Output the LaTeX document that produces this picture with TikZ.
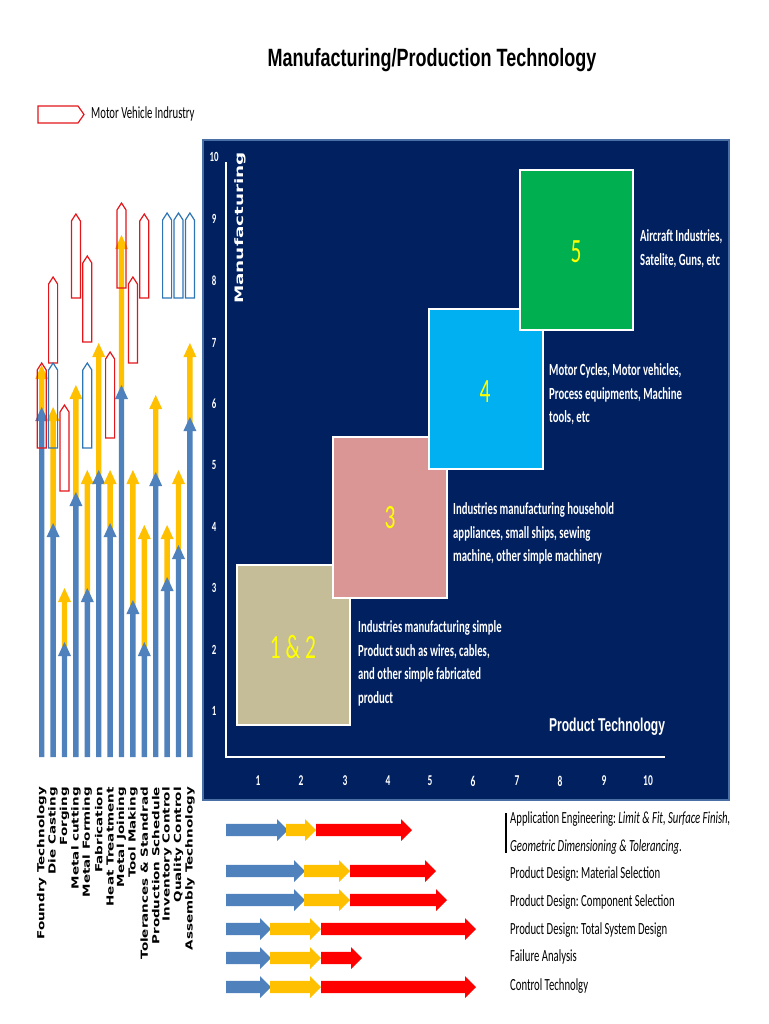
\documentclass[tikz,border=0pt]{standalone}
\usepackage{fontspec}
\usepackage{graphicx}
\frenchspacing
\newfontfamily\calib[FakeStretch=0.63]{Carlito}
\newfontfamily\titlefont[FakeStretch=0.72]{Liberation Sans}
\newfontfamily\ptfont[FakeStretch=0.65]{Liberation Sans}
\newfontfamily\vfont{DejaVu Sans}
\definecolor{navy}{HTML}{002060}
\definecolor{chartborder}{HTML}{4A6FA5}
\definecolor{tanbox}{HTML}{C4BD97}
\definecolor{pinkbox}{HTML}{D99694}
\definecolor{cyanbox}{HTML}{00B0F0}
\definecolor{greenbox}{HTML}{00B050}
\definecolor{numyellow}{HTML}{FFFF00}
\definecolor{barblue}{HTML}{4F81BD}
\definecolor{baryellow}{HTML}{FFC000}
\definecolor{barred}{HTML}{FF0000}
\definecolor{outred}{HTML}{E3161B}
\definecolor{outblue}{HTML}{2E75B6}
\tikzset{
  stagebox/.style={draw=white, line width=2pt},
  stagenum/.style={text=numyellow, font=\calib\fontsize{34}{36}\selectfont},
  boxtext/.style={text=white, anchor=west, align=left, inner sep=0pt, font=\calib\bfseries\fontsize{17}{23.5}\selectfont},
  ticklab/.style={text=white, font=\calib\bfseries\fontsize{15}{16}\selectfont},
  listtext/.style={anchor=west, inner sep=0pt, font=\calib\fontsize{17}{20}\selectfont},
  collab/.style={rotate=90, anchor=east, inner sep=0pt},
  outarrow/.style={line width=1.2pt},
}
\newcommand\colArrow[4]{% x, bottom y, tip y, colour
  \fill[#4] (#1-2.7,#2) -- (#1-2.7,#3+14) -- (#1-6.5,#3+14) -- (#1,#3) -- (#1+6.5,#3+14) -- (#1+2.7,#3+14) -- (#1+2.7,#2) -- cycle;}
\newcommand\colOutline[4]{% x, tip y, bottom y, colour
  \draw[#4, outarrow] (#1-4.5,#3) -- (#1-4.5,#2+7) -- (#1,#2) -- (#1+4.5,#2+7) -- (#1+4.5,#3) -- cycle;}
\newcommand\rowArrow[4]{% x1, x2, y, colour
  \fill[#4] (#1,#3-6.2) -- (#2-11,#3-6.2) -- (#2-11,#3-11) -- (#2,#3) -- (#2-11,#3+11) -- (#2-11,#3+6.2) -- (#1,#3+6.2) -- cycle;}
\newcommand\colPair[3]{% x, blue tip, yellow tip
  \colArrow{#1}{#2+8}{#3}{baryellow}
  \colArrow{#1}{757}{#2}{barblue}}
\begin{document}
\begin{tikzpicture}[x=1pt,y=-1pt]
\useasboundingbox (0,0) rectangle (768,1024);
\fill[white] (0,0) rectangle (768,1024);

% title
\node (title) at (432,60) {\titlefont\bfseries\fontsize{25}{30}\selectfont Manufacturing/Production Technology};

% legend
\draw[outred, outarrow] (38,106) -- (78,106) -- (84,114.5) -- (78,123) -- (38,123) -- cycle;
\node[listtext, font=\calib\fontsize{17}{18}\selectfont] (legend) at (91,114) {Motor Vehicle Indrustry};

% column arrows
\colPair{41.7}{407}{365}
\colPair{53.1}{523}{407}
\colPair{64.5}{642}{588}
\colPair{75.9}{492}{385}
\colPair{87.3}{588}{470}
\colPair{98.7}{470}{343}
\colPair{110.1}{523}{470}
\colPair{121.5}{385}{235}
\colPair{132.9}{600}{470}
\colPair{144.3}{642}{525}
\colPair{155.7}{472}{395}
\colPair{167.1}{577}{525}
\colPair{178.5}{545}{470}
\colPair{189.9}{417}{343}

% motor vehicle outlines
\colOutline{41.7}{363}{448}{outred}
\colOutline{53.1}{277}{363}{outred}
\colOutline{53.1}{363}{448}{outblue}
\colOutline{64.5}{405}{491}{outred}
\colOutline{75.9}{214}{298}{outred}
\colOutline{87.3}{256}{342}{outred}
\colOutline{87.3}{363}{448}{outblue}
\colOutline{110.1}{352}{438}{outred}
\colOutline{121.5}{203}{288}{outred}
\colOutline{132.9}{277}{363}{outred}
\colOutline{144.3}{214}{298}{outred}
\colOutline{167.1}{213}{298}{outblue}
\colOutline{178.5}{213}{298}{outblue}
\colOutline{189.9}{213}{298}{outblue}

% column labels
\foreach \lab [count=\i] in {Foundry Technology, Die Casting, Forging, Metal cutting, Metal Forming, Fabrication, Heat Treatment, Metal Joining, Tool Making, Tolerances \& Standrad, Production Schedule, Inventory Control, Quality Control, Assembly Technology}
  \node[collab] (lab\i) at ({41.7+(\i-1)*11.4},787) {\scalebox{1}[0.72]{\vfont\bfseries\fontsize{13.5}{14}\selectfont \lab}};

% chart
\fill[navy, draw=chartborder, line width=1.5pt] (203,140) rectangle (729,800);
\draw[white, line width=2.5pt] (226,162) -- (226,757) -- (665,757);
\node[rotate=90, text=white] (manu) at (240,228) {\scalebox{1}[0.63]{\vfont\bfseries\fontsize{18.4}{20}\selectfont Manufacturing}};
\node[text=white] (ptech) at (607,727) {\ptfont\bfseries\fontsize{18.6}{20}\selectfont Product Technology};

\foreach \v/\yy in {10/157, 9/219, 8/281, 7/343, 6/404, 5/465, 4/527, 3/588, 2/650, 1/711}
  \node[ticklab, font=\calib\bfseries\fontsize{14}{15}\selectfont] (ytick\v) at (214,\yy) {\v};
\foreach \v/\xx in {1/258, 2/301, 3/345, 4/388, 5/430, 6/473, 7/517, 8/560, 9/604, 10/648}
  \node[ticklab] (xtick\v) at (\xx,781) {\v};

% stage boxes
\filldraw[stagebox, fill=tanbox] (237,565) rectangle (350,725);
\filldraw[stagebox, fill=pinkbox] (333,437) rectangle (447,598);
\filldraw[stagebox, fill=cyanbox] (429,309) rectangle (543,469);
\filldraw[stagebox, fill=greenbox] (520,170) rectangle (633,330);
\node[stagenum] (s12) at (293,647) {1 \& 2};
\node[stagenum] (s3) at (390,518) {3};
\node[stagenum] (s4) at (485,392) {4};
\node[stagenum] (s5) at (576,252) {5};

\node[boxtext] (t12) at (358,663.5) {Industries manufacturing simple\\Product such as wires, cables,\\and other simple fabricated\\product};
\node[boxtext] (t3) at (453,533.5) {Industries manufacturing household\\appliances, small ships, sewing\\machine, other simple machinery};
\node[boxtext] (t4) at (549,394.5) {Motor Cycles, Motor vehicles,\\Process equipments, Machine\\tools, etc};
\node[boxtext] (t5) at (640,248.5) {Aircraft Industries,\\Satelite, Guns, etc};

% bottom arrows
\rowArrow{226}{288}{830}{barblue}
\rowArrow{286}{316}{830}{baryellow}
\rowArrow{316}{412}{830}{barred}
\foreach \yy/\bx/\yx/\rx in {871/305/350/436, 900/305/350/447, 929/271/321/476, 958/271/321/362, 987/271/321/476} {
  \rowArrow{226}{\bx}{\yy}{barblue}
  \rowArrow{\bx-1}{\yx}{\yy}{baryellow}
  \rowArrow{\yx}{\rx}{\yy}{barred}
}

% list
\draw[black, line width=1.2pt] (506,813) -- (506,853);
\node[listtext] (l1) at (510,819) {Application Engineering: \textit{Limit \& Fit, Surface Finish,}};
\node[listtext] (l2) at (510,847) {\textit{Geometric Dimensioning \& Tolerancing}.};
\node[listtext] (l3) at (510,874) {Product Design: Material Selection};
\node[listtext] (l4) at (510,902) {Product Design: Component Selection};
\node[listtext] (l5) at (510,930) {Product Design: Total System Design};
\node[listtext] (l6) at (510,957) {Failure Analysis};
\node[listtext] (l7) at (510,986) {Control Technolgy};
\end{tikzpicture}
\end{document}
